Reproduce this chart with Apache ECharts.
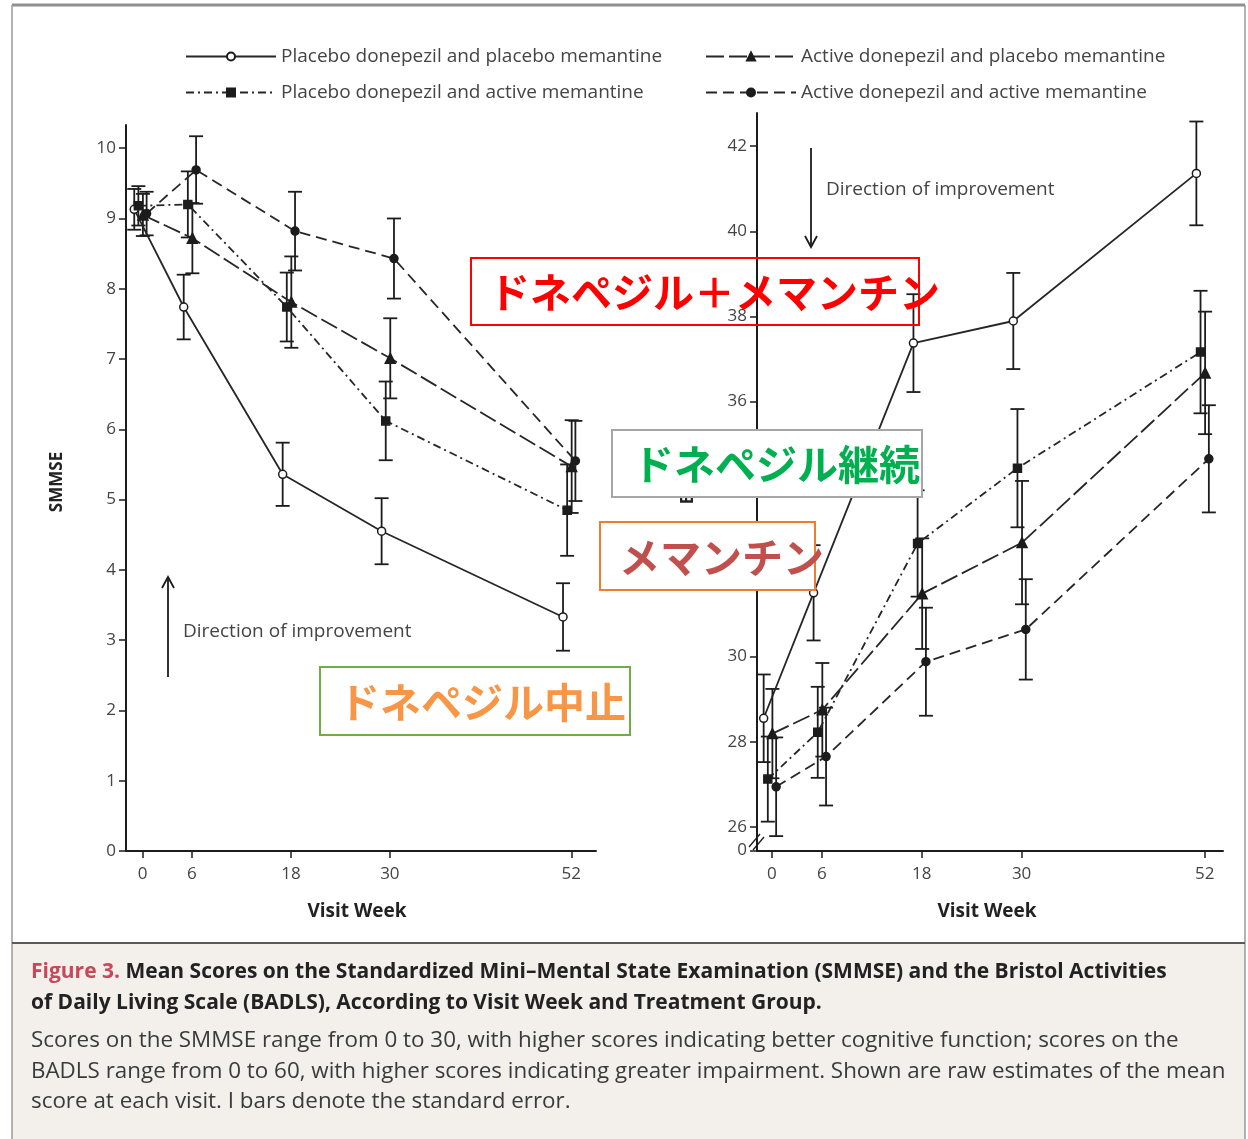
<!DOCTYPE html>
<html>
<head>
<meta charset="utf-8">
<title>SMMSE and BADLS by visit week</title>
<script src="https://cdn.jsdelivr.net/npm/echarts@6/dist/echarts.min.js"></script>
<style>
  html, body { margin: 0; padding: 0; background: #ffffff; }
  #chart { width: 1248px; height: 1139px; }
</style>
</head>
<body>
<div id="chart"></div>
<script>
// ---- data -------------------------------------------------------------
const visitWeeks = [0, 6, 18, 30, 52];
const groupNames = [
  'Placebo donepezil and placebo memantine',
  'Active donepezil and placebo memantine',
  'Placebo donepezil and active memantine',
  'Active donepezil and active memantine'
];

// SMMSE raw means and standard errors (order follows visitWeeks)
const smmsePlaceboPlacebo   = [9.13, 7.74, 5.36, 4.55, 3.33];
const smmsePlaceboPlaceboSE = [0.29, 0.46, 0.45, 0.47, 0.48];
const smmseActivePlacebo    = [9.05, 8.72, 7.81, 7.01, 5.47];
const smmseActivePlaceboSE  = [0.30, 0.50, 0.65, 0.57, 0.66];
const smmsePlaceboActive    = [9.18, 9.20, 7.74, 6.12, 4.85];
const smmsePlaceboActiveSE  = [0.28, 0.47, 0.49, 0.56, 0.65];
const smmseActiveActive     = [9.07, 9.69, 8.82, 8.43, 5.55];
const smmseActiveActiveSE   = [0.31, 0.48, 0.56, 0.57, 0.57];

// BADLS raw means and standard errors
const badlsPlaceboPlacebo   = [28.55, 31.50, 37.37, 37.89, 41.36];
const badlsPlaceboPlaceboSE = [1.03, 1.12, 1.15, 1.13, 1.22];
const badlsActivePlacebo    = [28.19, 28.75, 31.48, 32.68, 36.67];
const badlsActivePlaceboSE  = [1.05, 1.10, 1.30, 1.45, 1.44];
const badlsPlaceboActive    = [27.12, 28.22, 32.66, 34.43, 37.16];
const badlsPlaceboActiveSE  = [1.00, 1.07, 1.25, 1.39, 1.44];
const badlsActiveActive     = [26.94, 27.65, 29.88, 30.64, 34.65];
const badlsActiveActiveSE   = [1.16, 1.15, 1.27, 1.18, 1.26];

// axis tick labels
const weekTicks  = [0, 6, 18, 30, 52];
const smmseTicks = [0, 1, 2, 3, 4, 5, 6, 7, 8, 9, 10];
const badlsTicks = [26, 28, 30, 32, 34, 36, 38, 40, 42];

// ---- styling ------------------------------------------------------------
const FONT = '"Open Sans", "Liberation Sans", sans-serif';
const INK = '#1c1c1c';
const LABEL = '#444444';

// marker, dash pattern and small horizontal dodge (in weeks) per group
const groupLook = [
  { symbol: 'circle',   size: 8,  fill: '#ffffff', dash: 'solid',      dodge: -1.0 },
  { symbol: 'triangle', size: 10, fill: INK,       dash: [18, 5],      dodge: 0.05 },
  { symbol: 'rect',     size: 8,  fill: INK,       dash: [8, 4, 2, 4], dodge: -0.5 },
  { symbol: 'circle',   size: 8,  fill: INK,       dash: [11, 6],      dodge: 0.5 }
];

const panels = [
  { means: [smmsePlaceboPlacebo, smmseActivePlacebo, smmsePlaceboActive, smmseActiveActive],
    ses:   [smmsePlaceboPlaceboSE, smmseActivePlaceboSE, smmsePlaceboActiveSE, smmseActiveActiveSE] },
  { means: [badlsPlaceboPlacebo, badlsActivePlacebo, badlsPlaceboActive, badlsActiveActive],
    ses:   [badlsPlaceboPlaceboSE, badlsActivePlaceboSE, badlsPlaceboActiveSE, badlsActiveActiveSE] }
];

function errorBarItem(params, api) {
  const x = api.value(0);
  const lo = api.coord([x, api.value(1)]);
  const hi = api.coord([x, api.value(2)]);
  const hw = 7;
  const style = { stroke: INK, lineWidth: 1.8 };
  return {
    type: 'group',
    children: [
      { type: 'line', shape: { x1: lo[0], y1: lo[1], x2: hi[0], y2: hi[1] }, style },
      { type: 'line', shape: { x1: lo[0] - hw, y1: lo[1], x2: lo[0] + hw, y2: lo[1] }, style },
      { type: 'line', shape: { x1: hi[0] - hw, y1: hi[1], x2: hi[0] + hw, y2: hi[1] }, style }
    ]
  };
}

const series = [];
panels.forEach((panel, p) => {
  groupNames.forEach((name, g) => {
    const look = groupLook[g];
    const m = panel.means[g];
    const se = panel.ses[g];
    series.push({
      type: 'custom',
      name: 'se-' + p + '-' + g,
      xAxisIndex: p, yAxisIndex: p,
      renderItem: errorBarItem,
      encode: { x: 0, y: [1, 2] },
      data: visitWeeks.map((w, i) => [w + look.dodge, m[i] - se[i], m[i] + se[i]]),
      z: 3, silent: true
    });
    series.push({
      type: 'line',
      name,
      xAxisIndex: p, yAxisIndex: p,
      data: visitWeeks.map((w, i) => [w + look.dodge, m[i]]),
      symbol: look.symbol,
      symbolSize: look.size,
      showAllSymbol: true,
      lineStyle: { color: '#262626', width: 1.8, type: look.dash },
      itemStyle: { color: look.fill, borderColor: INK, borderWidth: 1.5, opacity: 1 },
      z: 4, silent: true
    });
  });
});

function valueAxisBase() {
  return {
    type: 'value',
    splitLine: { show: false },
    axisLine: { show: true, onZero: false, lineStyle: { color: INK, width: 2 } },
    axisTick: { show: true, length: 7, lineStyle: { color: INK, width: 1.5 } },
    axisLabel: { color: LABEL, fontFamily: FONT, fontSize: 17 }
  };
}

const xAxes = [
  { min: -2, max: 55, grid: 0 },
  { min: -1.8, max: 54.2, grid: 1 }
].map(a => {
  const ax = valueAxisBase();
  ax.gridIndex = a.grid; ax.min = a.min; ax.max = a.max;
  ax.axisTick.customValues = weekTicks;
  ax.axisLabel.customValues = weekTicks;
  ax.axisLabel.margin = 15;
  return ax;
});

const yLeft = valueAxisBase();
yLeft.gridIndex = 0; yLeft.min = 0; yLeft.max = 10.33;
yLeft.axisTick.customValues = smmseTicks;
yLeft.axisLabel.customValues = smmseTicks;
yLeft.axisLabel.margin = 10;

const badlsFloor = 25.43;
const yRight = valueAxisBase();
yRight.gridIndex = 1; yRight.min = badlsFloor; yRight.max = 42.78;
yRight.axisTick.customValues = [badlsFloor + 0.01].concat(badlsTicks);
yRight.axisLabel.customValues = [badlsFloor + 0.01].concat(badlsTicks);
yRight.axisLabel.formatter = v => (v < 25.9 ? '0' : String(Math.round(v)));
yRight.axisLabel.margin = 10;

const legendBase = {
  orient: 'vertical',
  itemWidth: 90, itemHeight: 10, itemGap: 17,
  textStyle: { color: LABEL, fontFamily: FONT, fontSize: 19, lineHeight: 19 },
  selectedMode: false
};

// ---- decorations ------------------------------------------------------------
function noteBox(x, y, w, h, stroke, fill, text, color, tx) {
  return {
    type: 'group', z: 100,
    children: [
      { type: 'rect', shape: { x, y, width: w, height: h },
        style: { fill: fill, stroke, lineWidth: 2 }, z: 100 },
      { type: 'text', x: tx, y: y + h / 2 + 1, z: 101,
        style: { text, fill: color, font: 'bold 41px "Noto Sans CJK JP"', verticalAlign: 'middle' } }
    ]
  };
}

function arrow(x, yFrom, yTo) {
  const dir = yTo < yFrom ? 1 : -1;
  return [
    { type: 'line', shape: { x1: x, y1: yFrom, x2: x, y2: yTo }, style: { stroke: INK, lineWidth: 1.8 }, z: 10 },
    { type: 'polyline', shape: { points: [[x - 6, yTo + dir * 11], [x, yTo], [x + 6, yTo + dir * 11]] },
      style: { stroke: INK, lineWidth: 1.8, fill: null }, z: 10 }
  ];
}

const captionBody = [
  'Scores on the SMMSE range from 0 to 30, with higher scores indicating better cognitive function; scores on the',
  'BADLS range from 0 to 60, with higher scores indicating greater impairment. Shown are raw estimates of the mean',
  'score at each visit. I bars denote the standard error.'
];
const CAP_BOLD = 'bold 21px "Open Sans"';
const CAP_BODY = '22.4px "Open Sans"';

const graphic = [
  // figure frame and caption panel
  { type: 'rect', shape: { x: 12, y: 944, width: 1233, height: 195 }, style: { fill: '#f3f0ec' }, z: -10 },
  { type: 'line', shape: { x1: 12, y1: 5, x2: 1245, y2: 5 }, style: { stroke: '#8f8f8f', lineWidth: 3 }, z: 1 },
  { type: 'line', shape: { x1: 12, y1: 5, x2: 12, y2: 1139 }, style: { stroke: '#9a9a9a', lineWidth: 1.5 }, z: 1 },
  { type: 'line', shape: { x1: 1245, y1: 5, x2: 1245, y2: 1139 }, style: { stroke: '#9a9a9a', lineWidth: 1.5 }, z: 1 },
  { type: 'line', shape: { x1: 12, y1: 943, x2: 1245, y2: 943 }, style: { stroke: '#5a5a5a', lineWidth: 2 }, z: 1 },
  { type: 'text', x: 31, y: 972, z: 2,
    style: { text: '{r|Figure 3.} Mean Scores on the Standardized Mini–Mental State Examination (SMMSE) and the Bristol Activities',
             fill: '#222', font: CAP_BOLD, verticalAlign: 'middle',
             rich: { r: { fill: '#c8475a', font: CAP_BOLD } } } },
  { type: 'text', x: 31, y: 1003, z: 2,
    style: { text: 'of Daily Living Scale (BADLS), According to Visit Week and Treatment Group.',
             fill: '#222', font: CAP_BOLD, verticalAlign: 'middle' } },
  ...captionBody.map((t, i) => ({
    type: 'text', x: 31, y: 1041 + i * 30.5, z: 2,
    style: { text: t, fill: '#3a3a3a', font: CAP_BODY, verticalAlign: 'middle' }
  })),

  // axis titles
  { type: 'text', x: 57, y: 482, rotation: Math.PI / 2, z: 5,
    style: { text: 'SMMSE', fill: '#222', font: 'bold 17px ' + FONT, align: 'center', verticalAlign: 'middle' } },
  { type: 'text', x: 688, y: 477, rotation: Math.PI / 2, z: 5,
    style: { text: 'BADLS', fill: '#222', font: 'bold 17px ' + FONT, align: 'center', verticalAlign: 'middle' } },
  { type: 'text', x: 357, y: 912, z: 5,
    style: { text: 'Visit Week', fill: '#222', font: 'bold 19px ' + FONT, align: 'center', verticalAlign: 'middle' } },
  { type: 'text', x: 987, y: 912, z: 5,
    style: { text: 'Visit Week', fill: '#222', font: 'bold 19px ' + FONT, align: 'center', verticalAlign: 'middle' } },

  // direction of improvement notes
  ...arrow(168, 677, 577),
  { type: 'text', x: 183, y: 632, z: 10,
    style: { text: 'Direction of improvement', fill: LABEL, font: '19px ' + FONT, verticalAlign: 'middle' } },
  ...arrow(811, 148, 247),
  { type: 'text', x: 826, y: 190, z: 10,
    style: { text: 'Direction of improvement', fill: LABEL, font: '19px ' + FONT, verticalAlign: 'middle' } },

  // broken BADLS axis between 0 and 26
  { type: 'line', shape: { x1: 749, y1: 847, x2: 760, y2: 834 }, style: { stroke: INK, lineWidth: 1.3 }, z: 10 },
  { type: 'line', shape: { x1: 753, y1: 850, x2: 764, y2: 837 }, style: { stroke: INK, lineWidth: 1.3 }, z: 10 },

  // treatment annotations
  noteBox(471, 258, 448, 67, '#ff0000', 'rgba(0,0,0,0)', 'ドネペジル＋メマンチン', '#ff0000', 489),
  noteBox(612, 430, 310, 67, '#a6a6a6', '#ffffff', 'ドネペジル継続', '#00b050', 633),
  noteBox(600, 522, 215, 68, '#ed7d31', '#ffffff', 'メマンチン', '#c0504d', 619),
  noteBox(320, 667, 310, 68, '#70ad47', '#ffffff', 'ドネペジル中止', '#f79646', 339)
];

const option = {
  animation: false,
  backgroundColor: '#ffffff',
  textStyle: { fontFamily: FONT },
  grid: [
    { left: 126, top: 125, width: 470, height: 726 },
    { left: 757, top: 113, width: 466, height: 738 }
  ],
  xAxis: xAxes,
  yAxis: [yLeft, yRight],
  legend: [
    Object.assign({}, legendBase, { left: 180, top: 42, data: [groupNames[0], groupNames[2]] }),
    Object.assign({}, legendBase, { left: 700, top: 42, data: [groupNames[1], groupNames[3]] })
  ],
  series,
  graphic
};

const chart = echarts.init(document.getElementById('chart'), null, { renderer: 'canvas' });
chart.setOption(option);
</script>
</body>
</html>
